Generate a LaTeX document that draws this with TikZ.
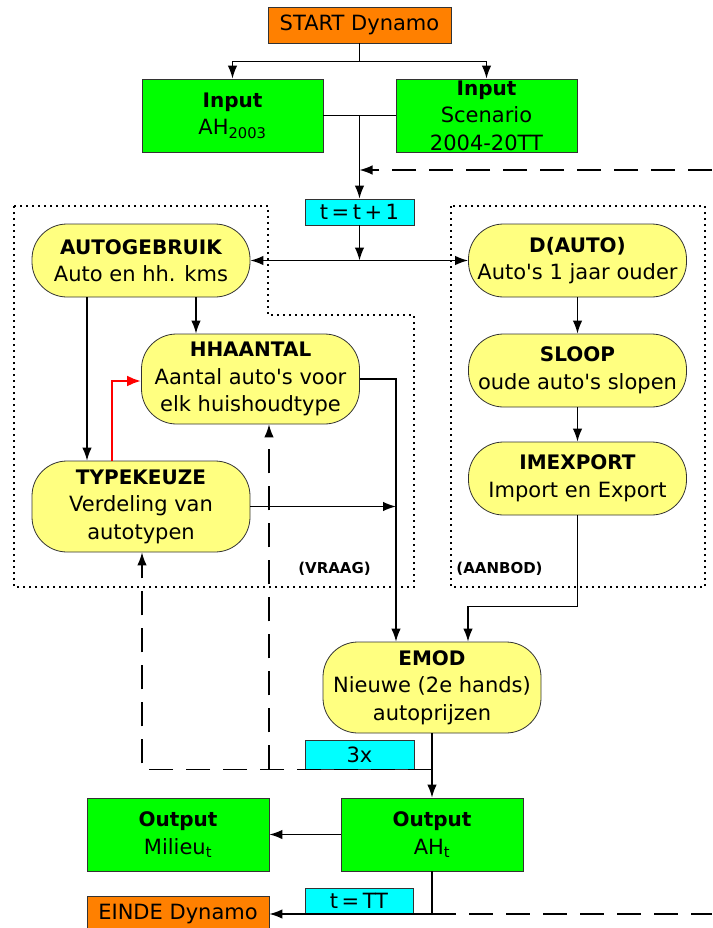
\documentclass[tikz,border=0pt]{standalone}
\usepackage{fontspec}
\setmainfont{DejaVu Sans}[Ligatures=TeXOff]
\usetikzlibrary{arrows.meta,backgrounds}
\definecolor{orng}{HTML}{FF8000}
\definecolor{grn}{HTML}{00FF00}
\definecolor{ylw}{HTML}{FFFF80}
\definecolor{cyn}{HTML}{00FFFF}
\definecolor{bord}{HTML}{333333}
\newcommand{\ttl}[1]{{\fontsize{20}{27.5}\selectfont\bfseries #1}}
\begin{document}
\begin{tikzpicture}[x=1pt,y=-1pt,
  every node/.style={font=\fontsize{21}{27.5}\selectfont, align=center, inner sep=0pt},
  pill/.style={draw=bord, fill=ylw, rounded corners=35pt, minimum width=218pt, line width=0.8pt},
  gbox/.style={draw=bord, fill=grn, minimum width=182pt, minimum height=73pt, line width=0.8pt},
  obox/.style={draw=bord, fill=orng, minimum width=183pt, minimum height=36pt, line width=0.8pt},
  cbox/.style={draw=bord, fill=cyn, minimum width=109pt, minimum height=26pt, line width=0.8pt},
  tip/.tip={Latex[length=13pt,width=9.5pt]},
  ln/.style={line width=1.4pt},
  conn/.style={line width=1.4pt, -tip},
  dconn/.style={line width=1.4pt, tip-tip},
  redconn/.style={line width=2.6pt, red, -{Latex[length=14pt,width=11pt]}},
  dashln/.style={line width=1.4pt, dash pattern=on 24pt off 13pt},
  dotln/.style={line width=1.4pt, dash pattern=on 1.6pt off 4.4pt},
  lbl/.style={font=\fontsize{15}{18}\selectfont\bfseries}
]
\useasboundingbox (0,0) rectangle (712,928);

% nodes
\node[obox] (start) at (359.5,25) {START Dynamo};
\node[gbox, minimum width=181pt] (inah) at (232.5,115.5) {\ttl{Input}\\AH\textsubscript{2003}};
\node[gbox, minimum width=181pt] (insc) at (486.5,115.5) {};
\node (insctxt) at (insc.center) {\ttl{Input}\\Scenario\\2004-20TT};
\node[cbox] (tinc) at (359.5,212) {t\,=\,t\,+\,1};

\node[pill, minimum height=73pt] (autog) at (141,260.5) {\ttl{AUTOGEBRUIK}\\Auto en hh. kms};
\node[pill, minimum height=90pt] (hha) at (250.5,379) {\ttl{HHAANTAL}\\Aantal auto's voor\\elk huishoudtype};
\node[pill, minimum height=91pt] (typek) at (141,506.5) {\ttl{TYPEKEUZE}\\Verdeling van\\autotypen};

\node[pill, minimum height=73pt] (dauto) at (577.5,260.5) {\ttl{D(AUTO)}\\Auto's 1 jaar ouder};
\node[pill, minimum height=73pt] (sloop) at (577.5,370.5) {\ttl{SLOOP}\\oude auto's slopen};
\node[pill, minimum height=73pt] (imex) at (577.5,478.5) {\ttl{IMEXPORT}\\Import en Export};

\node[lbl] (vraag) at (334.5,569) {(VRAAG)};
\node[lbl] (aanbod) at (499.5,569) {(AANBOD)};

\node[pill, minimum height=91pt] (emod) at (432,687.5) {\ttl{EMOD}\\Nieuwe (2e hands)\\autoprijzen};
\node[cbox, minimum height=29pt] (x3) at (359.5,754.5) {3x};

\node[gbox] (outah) at (432,834.5) {\ttl{Output}\\AH\textsubscript{t}};
\node[gbox] (outmil) at (178,834.5) {\ttl{Output}\\Milieu\textsubscript{t}};
\node[cbox, minimum width=108pt] (ttt) at (359,901) {t\,=\,TT};
\node[obox, minimum width=182pt] (einde) at (178,914) {EINDE Dynamo};

\coordinate (fbR1) at (712,170);
\coordinate (fbR2) at (712,914);

% dotted regions
\begin{scope}[on background layer]
\draw[dotln] (14,206) -- (268,206) -- (268,315) -- (414,315) -- (414,587) -- (14,587) -- cycle;
\draw[dotln] (451,206) rectangle (705,587);
\end{scope}

% connectors
\draw[ln] (start.south) -- ++(0,18) coordinate (sp);
\draw[conn] (sp) -| (inah.north);
\draw[conn] (sp) -| (insc.north);
\draw[ln] (inah.east) -- (insc.west);
\coordinate (jt) at (inah.east -| tinc.north);
\draw[conn] (jt) -- (tinc.north);
\draw[dashln, -tip] (fbR1) -- (fbR1 -| tinc.north);
\draw[conn] (tinc.south) -- (tinc.south |- autog.east);
\draw[dconn] (autog.east) -- (dauto.west);

\draw[conn] ([xshift=-54pt]autog.south) -- ([xshift=-54pt]typek.north);
\draw[conn] ([xshift=55pt]autog.south) -- ([xshift=55pt]autog.south |- hha.north);
\draw[redconn] ([xshift=-29pt]typek.north) |- ([yshift=-2pt]hha.west);

\coordinate (vx) at ([xshift=-36pt]emod.north);
\draw[conn] (hha.east) -| (vx);
\draw[conn] (typek.east) -- (typek.east -| vx);

\draw[conn] (dauto.south) -- (sloop.north);
\draw[conn] (sloop.south) -- (imex.north);
\draw[conn] (imex.south) -- ([yshift=-91pt]imex.south) -| ([xshift=36pt]emod.north);

\draw[conn] (emod.south) -- (outah.north);
\coordinate (fb3) at (emod.south |- x3.south);
\draw[dashln, -tip] (fb3) -| ([xshift=1pt]typek.south);
\coordinate (hb) at ([xshift=18.5pt]hha.south);
\draw[dashln, -tip] (hb |- fb3) -- (hb);

\draw[conn] (outah.west) -- (outmil.east);
\draw[conn] (outah.south) |- (einde.east);
\draw[dashln] (outah.south |- einde.east) -- (fbR2);
\end{tikzpicture}
\end{document}
